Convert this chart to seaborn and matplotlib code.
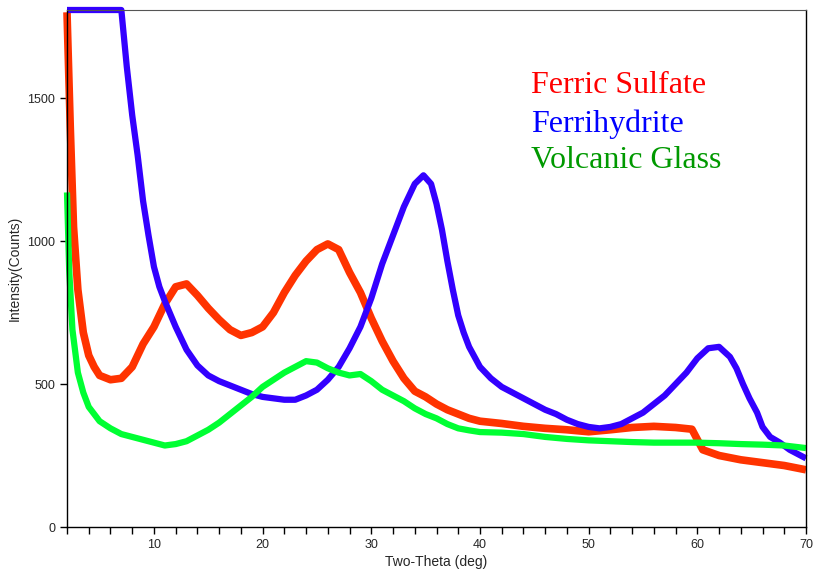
import numpy as np
import pandas as pd
import matplotlib
matplotlib.use("Agg")
import matplotlib.pyplot as plt
from matplotlib.ticker import MultipleLocator
import seaborn as sns

# Ferric Sulfate (red)
fs_x = [2, 2.3, 2.6, 3, 3.5, 4, 4.5, 5, 6, 7, 8, 9, 10, 11, 12, 13, 14, 15, 16, 17,
        18, 19, 20, 21, 22, 23, 24, 25, 26, 27, 28, 29, 30, 31, 32, 33, 34, 35, 36,
        37, 38, 39, 40, 42, 44, 46, 48, 50, 52, 54, 56, 58, 59.5, 60.5, 62, 64, 66,
        68, 70]
fs_y = [1800, 1400, 1050, 830, 680, 600, 560, 530, 515, 520, 560, 640, 700, 780,
        840, 850, 810, 765, 725, 690, 670, 680, 700, 750, 820, 880, 930, 970, 990,
        970, 890, 820, 730, 650, 580, 520, 475, 455, 430, 410, 395, 380, 370, 362,
        352, 345, 340, 333, 340, 348, 352, 348, 342, 270, 250, 235, 225, 215, 200]

# Ferrihydrite (blue)
fh_x = [2, 7, 7.5, 8, 8.5, 9, 9.5, 10, 10.5, 11, 11.5, 12, 13, 14, 15, 16, 17, 18,
        19, 20, 21, 22, 23, 24, 25, 26, 27, 28, 29, 30, 31, 32, 33, 34, 34.8, 35.5,
        36, 36.5, 37, 37.5, 38, 38.5, 39, 40, 41, 42, 43, 44, 45, 46, 47, 48, 49,
        50, 51, 52, 53, 54, 55, 56, 57, 58, 59, 60, 61, 62, 63, 63.6, 64.2, 64.8,
        65.5, 66, 66.7, 67.6, 68.5, 70]
fh_y = [1808, 1808, 1610, 1440, 1300, 1140, 1020, 910, 840, 790, 745, 700, 620,
        565, 530, 510, 495, 480, 465, 455, 450, 445, 445, 460, 480, 515, 560, 625,
        700, 800, 920, 1020, 1120, 1200, 1230, 1200, 1130, 1040, 930, 830, 740,
        680, 630, 560, 520, 490, 470, 450, 430, 410, 395, 375, 360, 350, 345, 350,
        360, 380, 400, 430, 460, 500, 540, 590, 625, 630, 595, 555, 500, 450, 400,
        350, 315, 295, 270, 240]

# Volcanic Glass (green)
vg_x = [2, 2.2, 2.5, 3, 3.5, 4, 5, 6, 7, 8, 9, 10, 11, 12, 13, 14, 15, 16, 17, 18,
        19, 20, 21, 22, 23, 24, 25, 26, 27, 28, 29, 30, 31, 32, 33, 34, 35, 36, 37,
        38, 39, 40, 42, 44, 46, 48, 50, 52, 54, 56, 58, 60, 62, 64, 66, 68, 70]
vg_y = [1170, 900, 690, 540, 470, 420, 370, 345, 325, 315, 305, 295, 285, 290, 300,
        320, 340, 365, 395, 425, 455, 490, 515, 540, 560, 580, 575, 555, 540, 530,
        535, 510, 480, 460, 440, 415, 395, 380, 360, 345, 338, 332, 330, 325, 315,
        308, 303, 300, 297, 295, 295, 295, 293, 290, 288, 285, 276]

labels = ["Ferric Sulfate", "Ferrihydrite", "Volcanic Glass"]
line_colors = ["#ff3300", "#3300ff", "#00ff33"]
text_colors = ["#ff0000", "#0000ff", "#009900"]

sns.set_style("ticks")
plt.rcParams["font.family"] = ["Liberation Sans", "DejaVu Sans"]

fig = plt.figure(figsize=(8.13, 5.70), dpi=100)
ax = fig.add_axes([67 / 813, 1 - 527 / 570, 739 / 813, 517 / 570])

series = [(fs_x, fs_y, 5.5), (fh_x, fh_y, 4.5), (vg_x, vg_y, 4.5)]
for (xs, ys, lw), lab, col in zip(series, labels, line_colors):
    df = pd.DataFrame({"x": xs, "y": ys})
    sns.lineplot(data=df, x="x", y="y", ax=ax, color=col, linewidth=lw,
                 clip_on=False, solid_capstyle="butt")

ax.set_xlim(2, 70)
ax.set_ylim(0, 1808)
ax.xaxis.set_major_locator(MultipleLocator(10))
ax.xaxis.set_minor_locator(MultipleLocator(2))
ax.set_yticks([0, 500, 1000, 1500])
ax.tick_params(axis="both", which="both", direction="out", length=5, width=1,
               labelsize=9, color="black")
ax.set_xlabel("Two-Theta (deg)", fontsize=10, labelpad=3)
ax.set_ylabel("Intensity(Counts)", fontsize=10, labelpad=4)

for s in ["left", "bottom", "right"]:
    ax.spines[s].set_color("black")
    ax.spines[s].set_linewidth(1)
ax.spines["top"].set_color("#555555")
ax.spines["top"].set_linewidth(0.8)

ys_txt = [0.839, 0.764, 0.694]
for lab, col, yy in zip(labels, text_colors, ys_txt):
    ax.text(0.628, yy, lab, transform=ax.transAxes, color=col, fontsize=23,
            family=["Liberation Serif", "DejaVu Serif"], va="baseline", ha="left")

fig.savefig("out.png", dpi=100)
